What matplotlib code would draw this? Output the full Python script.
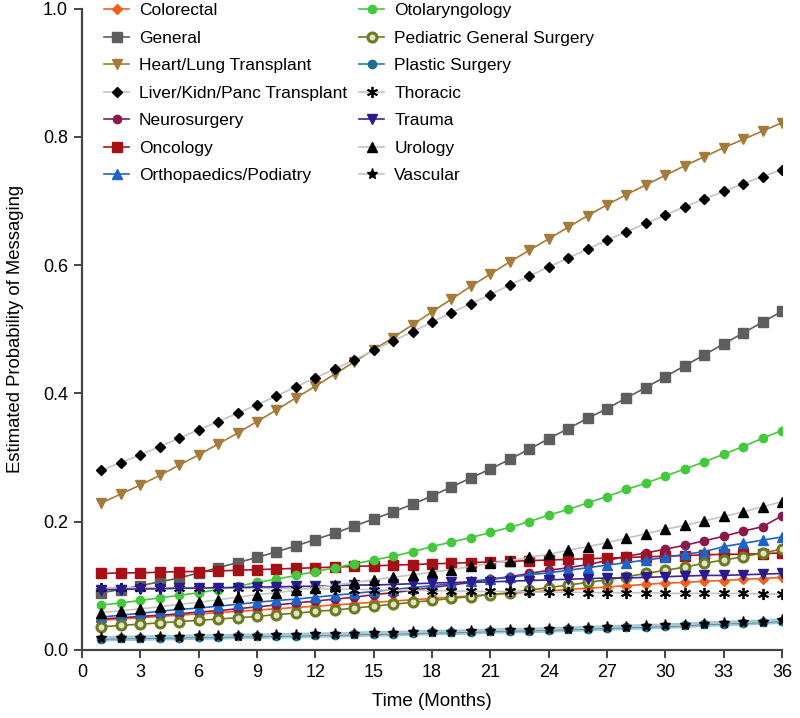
import matplotlib.pyplot as plt
import numpy as np

months = np.arange(1, 37)

colorectal = [.046, .048, .050, .052, .054, .056, .058, .060, .062, .064, .066, .068, .070, .072, .074, .076, .078, .080,
              .082, .084, .086, .088, .090, .092, .094, .096, .098, .100, .102, .104, .105, .107, .108, .110, .111, .113]
general = [.089, .094, .100, .106, .112, .120, .128, .136, .144, .153, .162, .172, .182, .193, .204, .215, .227, .240,
           .254, .268, .282, .297, .313, .329, .345, .361, .376, .393, .409, .426, .443, .460, .477, .494, .511, .528]
heart_lung = [.229, .243, .257, .272, .288, .304, .321, .338, .356, .374, .393, .411, .430, .449, .468, .487, .507, .527,
              .547, .567, .586, .605, .623, .641, .659, .677, .694, .710, .725, .740, .755, .769, .783, .796, .809, .822]
liver_kidn = [.280, .292, .304, .317, .330, .343, .356, .369, .382, .396, .410, .424, .438, .452, .467, .482, .496, .511,
              .526, .540, .554, .569, .583, .597, .611, .625, .639, .652, .665, .678, .691, .703, .715, .727, .738, .749]
neuro = [.048, .050, .052, .054, .056, .059, .061, .064, .067, .070, .073, .076, .079, .082, .086, .089, .093, .097,
         .101, .105, .110, .114, .119, .124, .128, .133, .139, .146, .151, .157, .163, .170, .177, .185, .192, .209]
oncology = [.119, .120, .120, .121, .122, .122, .123, .124, .125, .126, .127, .128, .129, .130, .131, .132, .133, .134,
            .135, .136, .137, .138, .139, .140, .141, .142, .143, .144, .145, .146, .147, .148, .149, .149, .150, .151]
ortho = [.051, .054, .057, .060, .063, .065, .068, .071, .074, .077, .079, .082, .085, .088, .091, .094, .097, .100,
         .103, .107, .110, .113, .117, .120, .124, .128, .132, .136, .140, .144, .149, .153, .161, .166, .171, .176]
otolaryngology = [.070, .073, .077, .081, .085, .089, .094, .099, .105, .110, .116, .122, .128, .134, .140, .146, .153, .161,
                  .168, .175, .183, .191, .200, .210, .219, .229, .239, .250, .260, .271, .282, .293, .305, .317, .330, .342]
pediatric = [.036, .038, .040, .042, .044, .046, .048, .050, .052, .055, .057, .060, .062, .065, .068, .071, .074, .077,
             .080, .083, .086, .089, .093, .097, .101, .105, .109, .114, .119, .124, .129, .135, .140, .145, .151, .157]
plastic = [.017, .018, .018, .019, .019, .020, .020, .021, .021, .022, .022, .023, .023, .024, .025, .025, .026, .027,
           .027, .028, .029, .030, .030, .031, .032, .033, .034, .035, .036, .037, .038, .040, .041, .042, .043, .045]
thoracic = [.097, .097, .097, .097, .097, .097, .097, .096, .096, .096, .095, .095, .095, .094, .094, .093, .093, .092,
            .092, .091, .091, .091, .090, .090, .090, .089, .089, .089, .089, .088, .088, .088, .088, .088, .087, .087]
trauma = [.094, .094, .095, .095, .096, .096, .097, .097, .098, .098, .099, .099, .100, .101, .101, .102, .103, .104,
          .105, .105, .106, .107, .108, .109, .110, .111, .112, .112, .113, .114, .115, .116, .116, .117, .118, .119]
urology = [.058, .061, .064, .067, .071, .074, .078, .082, .086, .089, .093, .097, .101, .105, .109, .113, .117, .121,
           .125, .130, .135, .139, .144, .149, .155, .161, .167, .174, .181, .188, .194, .201, .208, .215, .223, .231]
vascular = [.018, .019, .019, .020, .020, .021, .021, .022, .022, .023, .023, .024, .024, .025, .026, .026, .027, .028,
            .028, .029, .030, .031, .031, .032, .033, .034, .035, .036, .037, .038, .039, .041, .042, .043, .044, .046]

labels = ["Colorectal", "General", "Heart/Lung Transplant", "Liver/Kidn/Panc Transplant", "Neurosurgery",
          "Oncology", "Orthopaedics/Podiatry", "Otolaryngology", "Pediatric General Surgery", "Plastic Surgery",
          "Thoracic", "Trauma", "Urology", "Vascular"]
series = [colorectal, general, heart_lung, liver_kidn, neuro, oncology, ortho, otolaryngology, pediatric,
          plastic, thoracic, trauma, urology, vascular]

# (line colour, marker, marker colour, marker size)
styles = [
    ("#f0601e", "D", "#f0601e", 5),
    ("#5e5e5e", "s", "#5e5e5e", 6.5),
    ("#a47b3a", "v", "#a47b3a", 7),
    ("#c4c4c4", "D", "black", 5.5),
    ("#8a1a4c", "o", "#8a1a4c", 6),
    ("#b01018", "s", "#a50f15", 7),
    ("#1f63c6", "^", "#1f63c6", 7),
    ("#44c83c", "o", "#44c83c", 6),
    ("#6e7a1e", "o", "none", 6.5),
    ("#2a7e9c", "o", "#1e6e8e", 6),
    ("#c4c4c4", (6, 2, 0), "black", 8),
    ("#3a24a0", "v", "#2a1a8c", 7),
    ("#c4c4c4", "^", "black", 7.5),
    ("#c4c4c4", "*", "black", 8),
]

plt.rcParams['font.family'] = ['Liberation Sans', 'DejaVu Sans']

fig = plt.figure(figsize=(8, 7.18), dpi=100)
ax = fig.add_axes([0.1025, 0.095, 0.875, 0.893])

for lab, vals, (lc, m, mc, ms) in zip(labels, series, styles):
    if lab == "Plastic Surgery":
        ax.plot(months, vals, color="#9cc8dc", lw=4, zorder=2, solid_capstyle='round')
    if m == "o" and mc == "none":
        ax.plot(months, vals, color=lc, lw=1.2, marker=m, ms=ms, mfc="#dfe3c8", mec=lc, mew=2.2, label=lab, zorder=3)
    elif isinstance(m, tuple):
        ax.plot(months, vals, color=lc, lw=1.2, marker=m, ms=ms, mec=mc, mfc=mc, mew=1.3, label=lab, zorder=3)
    else:
        ax.plot(months, vals, color=lc, lw=1.2, marker=m, ms=ms, mfc=mc, mec=mc, label=lab, zorder=3)

ax.set_xlim(0, 36)
ax.set_ylim(0, 1.0)
ax.set_xticks(np.arange(0, 37, 3))
ax.set_yticks([0.0, 0.2, 0.4, 0.6, 0.8, 1.0])
ax.set_yticklabels(["0.0", "0.2", "0.4", "0.6", "0.8", "1.0"])
for s in ["top", "right"]:
    ax.spines[s].set_visible(False)
for s in ["left", "bottom"]:
    ax.spines[s].set_color("#444444")
    ax.spines[s].set_linewidth(1.6)
ax.tick_params(direction="out", length=6, width=1.4, color="#444444", labelsize=13, pad=4)
ax.set_xlabel("Time (Months)", fontsize=13.5, labelpad=9)
ax.set_ylabel("Estimated Probability of Messaging", fontsize=13.3, labelpad=14)

ax.legend(loc="upper left", bbox_to_anchor=(0.009, 1.033), ncol=2, frameon=False, fontsize=12.5,
          handlelength=1.45, handletextpad=0.57, columnspacing=0.7, labelspacing=0.71)

fig.savefig("out.png", dpi=100)
